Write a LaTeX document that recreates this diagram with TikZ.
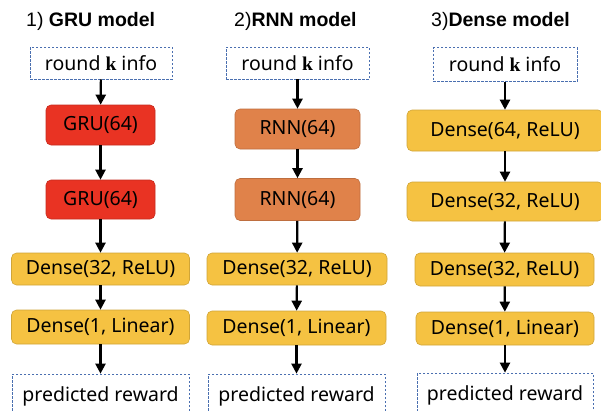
\documentclass[tikz,border=0pt]{standalone}
\usepackage{fontspec}
\setmainfont{Noto Sans}
\newfontfamily\titlefont{Liberation Sans}
\newfontfamily\kfont{Liberation Serif}
\usetikzlibrary{arrows.meta}
\definecolor{grured}{HTML}{E93323}
\definecolor{rnnorange}{HTML}{E0824A}
\definecolor{denseyellow}{HTML}{F5C242}
\definecolor{iodash}{HTML}{4A6FB0}
\newcommand{\kvar}{{\kfont\bfseries k}}
\begin{document}
\begin{tikzpicture}[x=1pt,y=-1pt,
  every node/.style={font=\fontsize{19.5}{22}\selectfont, align=center, inner sep=0pt},
  io/.style={draw=iodash, line width=0.7pt, dash pattern=on 2.5pt off 1.5pt, fill=white},
  layer/.style={rounded corners=5pt, line width=0.6pt},
  gru/.style={layer, fill=grured, draw=grured!85!black},
  rnn/.style={layer, fill=rnnorange, draw=rnnorange!85!black},
  dense/.style={layer, fill=denseyellow, draw=denseyellow!85!black},
  title/.style={anchor=west, font=\titlefont\fontsize{19.5}{22}\selectfont},
  arr/.style={-{Stealth[inset=0pt,length=10pt,width=10pt]}, line width=2.2pt}]
\useasboundingbox (0,0) rectangle (601,410);
\clip (0,0) rectangle (601,410);
% GRU model
\node[title] (t1) at (26,21) {1) \textbf{GRU model}};
\node[io, minimum width=142pt, minimum height=32pt] (in1) at (101,63) {round \kvar\ info};
\node[gru, minimum width=109pt, minimum height=40pt] (gru1) at (100.5,125) {GRU(64)};
\node[gru, minimum width=109pt, minimum height=39pt] (gru2) at (100.5,199.5) {GRU(64)};
\node[dense, minimum width=178pt, minimum height=32pt] (d1a) at (100.5,269) {Dense(32, ReLU)};
\node[dense, minimum width=178pt, minimum height=34pt] (d1b) at (100.5,327) {Dense(1, Linear)};
\node[io, minimum width=177pt, minimum height=44pt] (out1) at (100.5,396) {\raisebox{4pt}{predicted reward}};
\draw[arr] (in1) -- (gru1);
\draw[arr] (gru1) -- (gru2);
\draw[arr] (gru2) -- (d1a);
\draw[arr] (d1a) -- (d1b);
\draw[arr] (d1b) -- (out1);
% RNN model
\node[title] (t2) at (234,21) {2)\textbf{RNN model}};
\node[io, minimum width=143pt, minimum height=32pt] (in2) at (297.5,63) {round \kvar\ info};
\node[rnn, minimum width=125pt, minimum height=40pt] (rnn1) at (297.5,129) {RNN(64)};
\node[rnn, minimum width=125pt, minimum height=42pt] (rnn2) at (297.5,199.5) {RNN(64)};
\node[dense, minimum width=180pt, minimum height=32pt] (d2a) at (297,269) {Dense(32, ReLU)};
\node[dense, minimum width=179pt, minimum height=34pt] (d2b) at (296.5,328) {Dense(1, Linear)};
\node[io, minimum width=177pt, minimum height=44pt] (out2) at (296.5,396) {\raisebox{4pt}{predicted reward}};
\draw[arr] (in2) -- (rnn1);
\draw[arr] (rnn1) -- (rnn2);
\draw[arr] (rnn2) -- (d2a);
\draw[arr] (d2a) -- (d2b);
\draw[arr] (d2b) -- (out2);
% Dense model
\node[title] (t3) at (431,21) {3)\textbf{Dense model}};
\node[io, minimum width=144pt, minimum height=34pt] (in3) at (505,64.5) {round \kvar\ info};
\node[dense, minimum width=196pt, minimum height=41pt] (d3a) at (505,130.5) {Dense(64, ReLU)};
\node[dense, minimum width=196pt, minimum height=39pt] (d3b) at (505,201.5) {Dense(32, ReLU)};
\node[dense, minimum width=179pt, minimum height=33pt] (d3c) at (504.5,269.5) {Dense(32, ReLU)};
\node[dense, minimum width=178pt, minimum height=33pt] (d3d) at (505,328.5) {Dense(1, Linear)};
\node[io, minimum width=176pt, minimum height=44pt] (out3) at (505,395) {\raisebox{4pt}{predicted reward}};
\draw[arr] (in3) -- (d3a);
\draw[arr] (d3a) -- (d3b);
\draw[arr] (d3b) -- (d3c);
\draw[arr] (d3c) -- (d3d);
\draw[arr] (d3d) -- (out3);
\end{tikzpicture}
\end{document}
